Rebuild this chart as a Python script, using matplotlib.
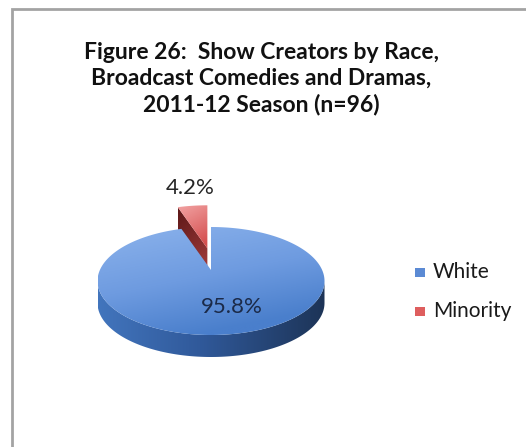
import numpy as np
import matplotlib.pyplot as plt
from matplotlib.patches import Polygon, Rectangle
from matplotlib.colors import to_rgb

# chart data
categories = ["White", "Minority"]
shares = [95.8, 4.2]
pct_labels = ["95.8%", "4.2%"]
title = "Figure 26:  Show Creators by Race,\nBroadcast Comedies and Dramas,\n2011-12 Season (n=96)"

plt.rcParams['font.family'] = ['Lato', 'DejaVu Sans']

W, H = 526, 447
fig = plt.figure(figsize=(W / 100, H / 100), dpi=100)
ax = fig.add_axes([0, 0, 1, 1])

# pie geometry (pixel space)
cx, cy = 211, 281
rx, ry = 113.5, 54
hub_y = 270          # apex of slices (perspective)
depth = 22
explode = 46


def rim(t, dx=0.0, dy=0.0):
    t = np.radians(t)
    return np.column_stack([cx + rx * np.sin(t) + dx, cy - ry * np.cos(t) + dy])


def grad_fill(verts, stops, colors, axis, z):
    verts = np.asarray(verts)
    poly = Polygon(verts, closed=True, facecolor='none', edgecolor='none', zorder=z)
    ax.add_patch(poly)
    x0, y0 = verts.min(axis=0)
    x1, y1 = verts.max(axis=0)
    gx, gy = np.meshgrid(np.linspace(0, 1, 200), np.linspace(0, 1, 200))
    t = np.clip(gx * axis[0] + gy * axis[1], 0, 1)
    cols = np.array([to_rgb(c) for c in colors])
    img = np.dstack([np.interp(t, stops, cols[:, k]) for k in range(3)])
    im = ax.imshow(img, extent=(x0, x1, y1, y0), origin='upper', zorder=z,
                   interpolation='bilinear', aspect='auto')
    im.set_clip_path(poly)


angles = np.cumsum([0] + [s / sum(shares) * 360 for s in shares])

# white slice
a0, a1 = angles[0], angles[1]
front = rim(np.linspace(90, 270, 120))
side = np.vstack([front, front[::-1] + [0, depth]])
grad_fill(side, [0, 0.45, 1], ['#4275bd', '#30599a', '#1d3457'], (1, 0.0), 2)
top = np.vstack([[cx, hub_y], rim(np.linspace(a0, a1, 300))])
grad_fill(top, [0, 0.55, 1], ['#8cb3ec', '#6e9be0', '#4a7fcc'], (0.35, 0.85), 3)

# minority slice (exploded)
b0, b1 = angles[1], angles[2]
mid = np.radians((b0 + b1) / 2)
ox, oy = 0.6 * explode * np.sin(mid), -explode * np.cos(mid) * ry / rx
hub = np.array([cx + ox, hub_y + oy])
r0 = rim(b0, ox, oy)[0]
face = np.array([hub, r0, r0 + [0, depth], hub + [0, depth]])
grad_fill(face, [0, 1], ['#5a1717', '#a33c3c'], (0.3, 0.7), 0.5)
rtop = np.vstack([hub, rim(np.linspace(b0, b1, 30), ox, oy)])
grad_fill(rtop, [0, 1], ['#f2a3a3', '#d44e4e'], (0.3, 0.8), 1)

# percent labels
ax.text(232, 307, pct_labels[0], ha='center', va='center', fontsize=16,
        color='#1b2a48', zorder=5)
ax.text(190, 188, pct_labels[1], ha='center', va='center', fontsize=16,
        color='#262626', zorder=5)

# title
ax.text(261, 79, title, ha='center', va='center', fontsize=16.5,
        fontweight='bold', linespacing=1.27, color='#111111')

# legend
leg_colors = ['#5b8ad4', '#de5e5e']
for i, (cat, col) in enumerate(zip(categories, leg_colors)):
    y = 272 + i * 39
    ax.add_patch(Rectangle((415, y - 4.5), 10, 9, facecolor=col, edgecolor='none'))
    ax.text(433, y, cat, ha='left', va='center', fontsize=15, color='#1a1a1a')

# chart frame
ax.plot([12, 12, W], [H, 9, 9], color='#a3a3a3', lw=2, solid_joinstyle='miter')

ax.set_xlim(0, W)
ax.set_ylim(H, 0)
ax.axis('off')
fig.savefig('out.png', dpi=100)
